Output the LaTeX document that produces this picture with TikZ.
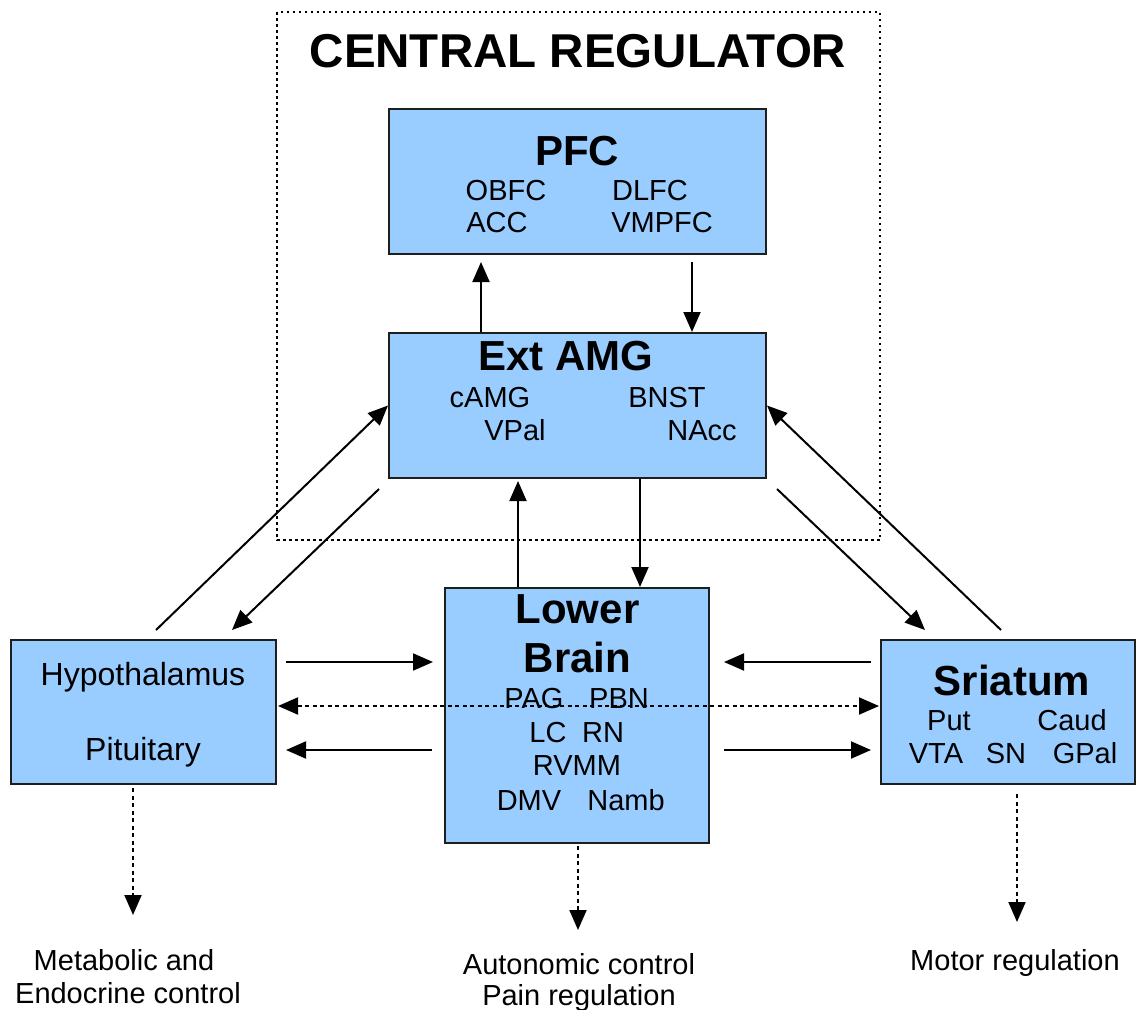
\documentclass[tikz,border=0pt]{standalone}
\usepackage{fontspec}
\setmainfont{Liberation Sans}
\usetikzlibrary{arrows.meta, calc}
\definecolor{boxblue}{RGB}{153,204,255}
\definecolor{boxedge}{RGB}{30,30,30}

\begin{document}
\begin{tikzpicture}[
    x=1pt, y=-1pt,
    >={Triangle[length=20pt, width=17pt]},
    region/.style={draw=boxedge, line width=2pt, fill=boxblue, inner sep=0pt},
    head/.style={anchor=base, inner sep=0pt, font=\fontsize{42}{48}\selectfont\bfseries},
    part/.style={anchor=base, inner sep=0pt, font=\fontsize{29}{34}\selectfont},
    arr/.style={->, line width=2pt},
    dotarr/.style={->, line width=2pt, dash pattern=on 4pt off 3.5pt},
]
    \useasboundingbox (0,0) rectangle (1136,1010);

    % central regulator frame
    \draw[line width=2pt, dash pattern=on 2.5pt off 3.5pt] (277,12) rectangle (880,540);
    \node[anchor=base, inner sep=0pt, font=\fontsize{47.5}{54}\selectfont\bfseries] (title) at (578,67) {CENTRAL REGULATOR};

    % boxes
    \node[region, minimum width=377pt, minimum height=145pt] (pfc) at (577.5,181.5) {};
    \node[region, minimum width=377pt, minimum height=145pt] (ext) at (577.5,405.5) {};
    \node[region, minimum width=265pt, minimum height=144pt] (hyp) at (143.5,712) {};
    \node[region, minimum width=264pt, minimum height=255pt] (lower) at (577,715.5) {};
    \node[region, minimum width=254pt, minimum height=144pt] (stri) at (1008,712) {};

    % PFC
    \node[head] (pfctitle) at (577,165) {PFC};
    \node[part] (obfc) at (506,200) {OBFC};
    \node[part] (dlfc) at (650,200) {DLFC};
    \node[part] (acc) at (497,232) {ACC};
    \node[part] (vmpfc) at (662,232) {VMPFC};

    % Ext AMG
    \node[head] (exttitle) at (566,370) {Ext AMG};
    \node[part] (camg) at (490,407) {cAMG};
    \node[part] (bnst) at (667,407) {BNST};
    \node[part] (vpal) at (515,440) {VPal};
    \node[part] (nacc) at (702,440) {NAcc};

    % Hypothalamus
    \node[part, font=\fontsize{32}{38}\selectfont] (hyptitle) at (143,685) {Hypothalamus};
    \node[part, font=\fontsize{32}{38}\selectfont] (pit) at (143,760) {Pituitary};

    % Lower Brain
    \node[head] (lowtitle) at (577.5,623) {Lower};
    \node[head] (braintitle) at (577.5,672) {Brain};
    \node[part] (pag) at (534,708) {PAG};
    \node[part] (pbn) at (619,708) {PBN};
    \node[part] (lc) at (548,742) {LC};
    \node[part] (rn) at (603,742) {RN};
    \node[part] (rvmm) at (577,775) {RVMM};
    \node[part] (dmv) at (529,810) {DMV};
    \node[part] (namb) at (626,810) {Namb};

    % Sriatum
    \node[head] (stritle) at (1012,695) {Sriatum};
    \node[part] (put) at (949,730) {Put};
    \node[part] (caud) at (1072,730) {Caud};
    \node[part] (vta) at (936,763) {VTA};
    \node[part] (sn) at (1006,763) {SN};
    \node[part] (gpal) at (1085,763) {GPal};

    % outputs
    \coordinate (metab) at (133,915);
    \coordinate (auto) at (578,930);
    \coordinate (motor) at (1017,922);
    \node[part] (metab1) at (124,970) {Metabolic and};
    \node[part] (metab2) at (128,1003) {Endocrine control};
    \node[part] (auto1) at (579,974) {Autonomic control};
    \node[part] (auto2) at (579,1005) {Pain regulation};
    \node[part] (motor1) at (1015,970) {Motor regulation};

    % PFC <-> Ext AMG
    \draw[arr] ($(ext.north)+(-96.5,0)$) -- ($(pfc.south)+(-96.5,7)$);
    \draw[arr] ($(pfc.south)+(114.5,7)$) -- ($(ext.north)+(114.5,0)$);
    % Ext AMG <-> Lower Brain
    \draw[arr] ($(lower.north)+(-59,0)$) -- ($(ext.south)+(-59.5,2)$);
    \draw[arr] ($(ext.south)+(62.5,0)$) -- ($(lower.north)+(63,0)$);
    % diagonals
    \draw[arr] ($(hyp.north)+(12.5,-9)$) -- (ext.west);
    \draw[arr] ($(ext.south west)+(-9,10)$) -- ($(hyp.north)+(88.5,-9)$);
    \draw[arr] ($(stri.north)+(-7,-9)$) -- (ext.east);
    \draw[arr] ($(ext.south east)+(10,10)$) -- ($(stri.north)+(-83,-9)$);
    % horizontals
    \draw[arr] ($(hyp.east)+(9,-50)$) -- ($(lower.west)+(-11,-53.5)$);
    \draw[arr] ($(lower.west)+(-12,34.5)$) -- ($(hyp.east)+(9,38)$);
    \draw[dotarr, <->] ($(hyp.east)+(1,-6)$) -- ($(stri.west)+(-1,-6)$);
    \draw[arr] ($(stri.west)+(-9,-50)$) -- ($(lower.east)+(14,-53.5)$);
    \draw[arr] ($(lower.east)+(14,34.5)$) -- ($(stri.west)+(-9,38)$);
    % outputs
    \draw[dotarr] ($(hyp.south)+(-10.5,3)$) -- (metab);
    \draw[dotarr] ($(lower.south)+(1,2)$) -- (auto);
    \draw[dotarr] ($(stri.south)+(9,9)$) -- (motor);
\end{tikzpicture}
\end{document}
